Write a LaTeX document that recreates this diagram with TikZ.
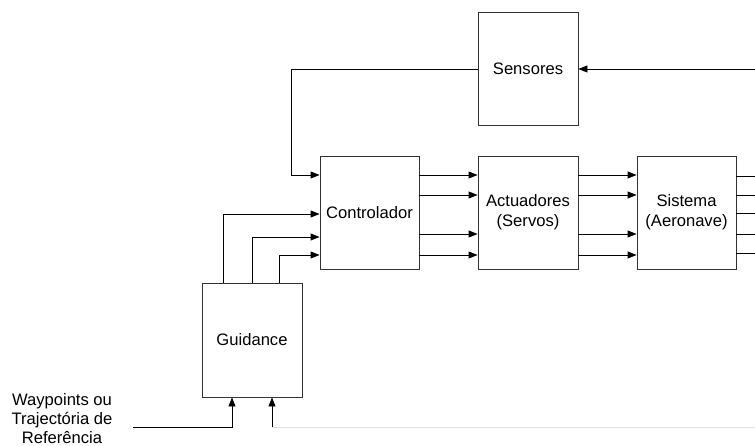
\documentclass[tikz,border=0pt]{standalone}
\usepackage{fontspec}
\setmainfont{Liberation Sans}
\usetikzlibrary{arrows.meta,positioning,calc}

\begin{document}
\begin{tikzpicture}[
    x=1pt, y=-1pt,
    blk/.style={rectangle, draw=black!80, line width=0.9pt, minimum width=#1, minimum height=113pt, inner sep=0pt, align=center, font=\fontsize{16.6}{20}\selectfont},
    blk/.default=100pt,
    arr/.style={-{Triangle[length=9pt, width=7pt]}, line width=0.9pt},
    wire/.style={line width=0.9pt},
    lbl/.style={font=\fontsize{16.6}{19}\selectfont, align=center}
]
\useasboundingbox (0,0) rectangle (755,446);

% blocks
\node[blk] (sens) at (528, 69) {Sensores};
\node[blk=99pt] (ctrl) at (369.5, 212.5) {Controlador};
\node[blk] (act) at (528, 212.5) {Actuadores\\(Servos)};
\node[blk=99pt] (sys) at (686.5, 212.5) {Sistema\\(Aeronave)};
\node[blk, minimum height=114pt] (guid) at (252, 340) {Guidance};

\node[lbl] (ref) at (62, 419) {Waypoints ou\\Trajectória de\\Referência};

\coordinate (rim) at (755, 0);
\coordinate (fb) at (291, 175);
\coordinate (wp) at (133, 427);
\coordinate (gin) at (272, 427);

% forward path
\foreach \yy in {175,195,234,255} {
  \draw[arr] (ctrl.east |- 0,\yy) -- (act.west |- 0,\yy);
  \draw[arr] (act.east |- 0,\yy) -- (sys.west |- 0,\yy);
}
\foreach \yy in {176,195,213,234,253}
  \draw[wire] (sys.east |- 0,\yy) -- (rim |- 0,\yy);

% feedback
\draw[arr] (rim |- sens) -- (sens.east);
\draw[arr] (sens.west) -| (fb) -- (ctrl.west |- fb);

% guidance to controller
\foreach \xx/\yy in {223/214, 252/237, 279/255}
  \draw[arr] (guid.north -| \xx,0) |- (ctrl.west |- 0,\yy);

% guidance inputs
\draw[arr] (wp) -| (guid.south -| 232,0);
\draw[black!12, line width=0.9pt] (rim |- gin) -- (gin);
\draw[arr] (gin) -- (guid.south -| gin);

\end{tikzpicture}
\end{document}
